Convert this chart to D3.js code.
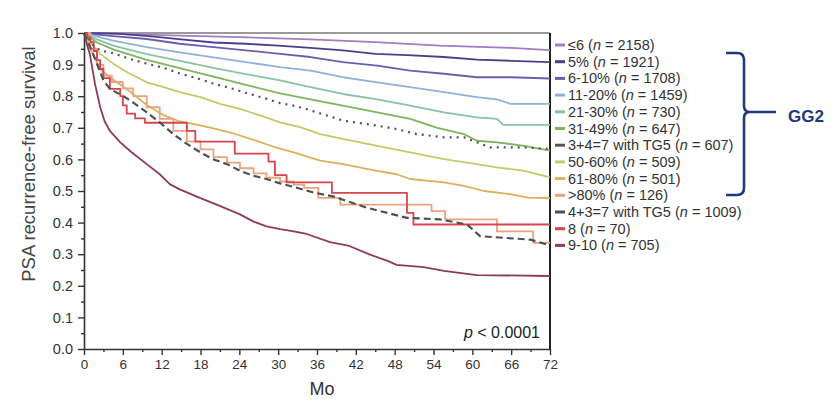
<!DOCTYPE html>
<html>
<head>
<meta charset="utf-8">
<script src="https://cdn.jsdelivr.net/npm/d3@7"></script>
<style>
  body { margin: 0; background: #fff; }
  text { font-family: "Liberation Sans", Arial, sans-serif; }
</style>
</head>
<body>
<svg id="display" width="837" height="403"></svg>
<script>
'use strict';
//data: [month, survival]
var le6 = [[0,1],[6,0.997],[12,0.993],[18,0.99],[24,0.987],[30,0.983],[35,0.98],[45,0.971],[55,0.96],[66,0.953],[72,0.946]];
var pct5 = [[0,1],[5,0.998],[10,0.99],[15,0.98],[20,0.97],[25,0.966],[30,0.96],[35,0.953],[40,0.945],[45,0.934],[50,0.93],[55.6,0.924],[60.7,0.916],[66,0.912],[72,0.908]];
var pct6to10 = [[0,1],[2,0.995],[4.5,0.99],[9.7,0.981],[14.8,0.966],[20,0.955],[25,0.945],[30.3,0.934],[35,0.924],[40,0.908],[45.3,0.897],[50.4,0.881],[55.6,0.871],[60.7,0.86],[66,0.86],[72,0.856]];
var pct11to20 = [[0,1],[2.5,0.986],[4.5,0.976],[9.7,0.955],[14.8,0.939],[20,0.923],[25,0.908],[30.3,0.892],[35,0.881],[40,0.86],[45.3,0.844],[50.4,0.829],[55.6,0.813],[60.7,0.797],[63.8,0.79],[65.9,0.776],[72,0.776]];
var pct21to30 = [[0,1],[2,0.98],[4.5,0.96],[9.7,0.933],[14.8,0.912],[20,0.89],[25,0.87],[30.3,0.85],[35,0.829],[40,0.807],[45.3,0.79],[50.4,0.77],[55.6,0.749],[60.7,0.733],[63.8,0.728],[64.8,0.709],[72,0.709]];
var pct31to49 = [[0,1],[2,0.97],[4.5,0.948],[9.7,0.915],[14.8,0.889],[20,0.862],[25,0.836],[30.3,0.809],[35,0.79],[40,0.77],[45.3,0.749],[50.4,0.728],[54.6,0.7],[58.7,0.68],[60.7,0.659],[63.8,0.654],[68,0.643],[72,0.628]];
var tg5_347 = [[0,1],[1.5,0.96],[2.5,0.945],[4.5,0.936],[7.1,0.918],[9.7,0.903],[12.3,0.89],[14.8,0.872],[17.4,0.857],[20,0.84],[22.6,0.826],[25.1,0.81],[27.7,0.795],[30.3,0.778],[32.9,0.768],[35.5,0.752],[40,0.723],[45.3,0.707],[48.3,0.696],[51.4,0.68],[55.6,0.67],[58.7,0.67],[60.7,0.654],[62.8,0.638],[68,0.638],[72,0.633]];
var pct50to60 = [[0,1],[1,0.97],[2.5,0.934],[4.5,0.903],[7.1,0.871],[9.7,0.844],[12.3,0.829],[14.8,0.813],[18,0.797],[21,0.776],[24.1,0.76],[27.2,0.739],[30.3,0.717],[33.4,0.702],[36.5,0.68],[40,0.665],[45.3,0.643],[50.4,0.622],[55.6,0.601],[60.7,0.585],[63.8,0.575],[68,0.564],[72,0.543]];
var pct61to80 = [[0,1],[1,0.95],[2.5,0.885],[4.3,0.855],[7.1,0.815],[9.7,0.772],[12.3,0.74],[14.8,0.72],[17.4,0.71],[20,0.698],[23.1,0.682],[26.2,0.662],[29.3,0.64],[32.4,0.622],[36.5,0.596],[40,0.585],[45.3,0.564],[48.3,0.553],[50.4,0.538],[55.6,0.527],[58.7,0.516],[61.8,0.5],[65.9,0.49],[68.5,0.479],[72,0.477]];
var gt80 = [[0,1],[1,0.95],[2,0.9],[3,0.865],[4.3,0.845],[6,0.825],[7.6,0.8],[9.7,0.765],[11.7,0.728],[13.8,0.69],[15.9,0.657],[18,0.632],[20,0.607],[22.1,0.59],[24.1,0.572],[26.2,0.556],[28.2,0.542],[30.3,0.53],[32.4,0.52],[34,0.51],[36.2,0.478],[39.6,0.457],[53.7,0.436],[55.8,0.41],[63.8,0.372],[69.4,0.336],[72,0.336]];
var tg5_437 = [[0,1],[1.4,0.934],[3,0.85],[4,0.823],[6.1,0.8],[7.6,0.78],[9.7,0.749],[11.7,0.717],[13.8,0.68],[15.9,0.649],[18,0.622],[20,0.6],[22.1,0.585],[24.1,0.564],[26.2,0.548],[28.2,0.538],[30.3,0.524],[32.4,0.513],[35.5,0.495],[38.5,0.483],[43.7,0.447],[49.9,0.415],[55,0.41],[59.2,0.394],[61.2,0.357],[69,0.346],[71.6,0.33],[72,0.33]];
var gs8 = [[0,1],[0.5,0.986],[1,0.971],[1.5,0.943],[2,0.914],[2.5,0.886],[3,0.857],[4,0.823],[5.6,0.8],[6,0.771],[6.6,0.745],[7.9,0.73],[9.4,0.716],[15.9,0.69],[17.2,0.656],[23.3,0.618],[28.5,0.593],[29.5,0.55],[31.3,0.527],[38.3,0.494],[49.9,0.431],[50.9,0.394],[72,0.394]];
var gs9to10 = [[0,1],[0.5,0.96],[0.9,0.934],[1.7,0.839],[2.5,0.765],[3.2,0.72],[4,0.69],[5.6,0.654],[7.4,0.622],[9.7,0.585],[11.7,0.553],[13.3,0.521],[14.8,0.505],[17.9,0.478],[20.5,0.457],[24.1,0.426],[26.2,0.403],[28.2,0.388],[30.3,0.379],[32.4,0.372],[34.4,0.364],[38,0.338],[41,0.326],[44,0.3],[47,0.278],[48.3,0.266],[52.5,0.259],[55.6,0.247],[60.7,0.234],[72,0.231]];

var SERIES = [le6, pct5, pct6to10, pct11to20, pct21to30, pct31to49, tg5_347, pct50to60, pct61to80, gt80, tg5_437, gs8, gs9to10];
var LABELS = ['\u22646', '5%', '6-10%', '11-20%', '21-30%', '31-49%', '3+4=7 with TG5', '50-60%', '61-80%', '>80%', '4+3=7 with TG5', '8', '9-10'];
var COUNTS = [2158, 1921, 1708, 1459, 730, 647, 607, 509, 501, 126, 1009, 70, 705];
var X_TICKS = d3.range(0, 73, 6);
var Y_TICKS = d3.range(0, 1.01, 0.1);

//styles
var COLORS = ['#a47cc2', '#4e3d8c', '#6a5db2', '#8fb2dc', '#88c3a2', '#7db560', '#555555', '#c3ca6a', '#dbb15c', '#eba27f', '#4b5252', '#d8434c', '#8c3b5a'];
var DASHES = [null, null, null, null, null, null, '2,5', null, null, null, '7,4', null, null];
var STEPPED = [false, false, false, false, false, false, false, false, false, true, false, true, false];

var HEIGHT = 403;
var WIDTH = 837;
var MARGINS = { top: 33, right: 287, bottom: 54, left: 84 };

var svg = d3.select('#display');

var x = d3.scaleLinear().domain([0, 72]).range([MARGINS.left, WIDTH - MARGINS.right]);
var y = d3.scaleLinear().domain([0, 1]).range([HEIGHT - MARGINS.bottom, MARGINS.top]);

//frame
svg.append('line')
  .attr('x1', x(0)).attr('x2', x(72))
  .attr('y1', y(1)).attr('y2', y(1))
  .attr('stroke', '#9a9a9a').attr('stroke-width', 2);
svg.append('line')
  .attr('x1', x(72)).attr('x2', x(72))
  .attr('y1', y(1)).attr('y2', y(0))
  .attr('stroke', '#222').attr('stroke-width', 2);

//axes
function styleAxis(g, size) {
  g.select('.domain').attr('stroke', '#333').attr('stroke-width', 1.6);
  g.selectAll('.tick line').attr('stroke', '#333').attr('stroke-width', 1.4);
  g.selectAll('.tick text').attr('fill', '#333').attr('font-size', size)
    .attr('font-family', 'Liberation Sans, Arial, sans-serif');
}

var xAxis = svg.append('g')
  .attr('transform', 'translate(0,' + y(0) + ')')
  .call(d3.axisBottom(x).tickValues(X_TICKS).tickSize(6).tickPadding(4).tickSizeOuter(0));
styleAxis(xAxis, 13.5);
svg.append('g')
  .attr('transform', 'translate(0,' + y(0) + ')')
  .call(d3.axisBottom(x).tickValues(d3.range(3, 72, 6)).tickSize(3).tickFormat('').tickSizeOuter(0))
  .call(function(g) { g.select('.domain').remove(); g.selectAll('line').attr('stroke', '#333').attr('stroke-width', 1.4); });

var yAxis = svg.append('g')
  .attr('transform', 'translate(' + x(0) + ',0)')
  .call(d3.axisLeft(y).tickValues(Y_TICKS).tickFormat(d3.format('.1f')).tickSize(6).tickPadding(5).tickSizeOuter(0));
styleAxis(yAxis, 14.5);
svg.append('g')
  .attr('transform', 'translate(' + x(0) + ',0)')
  .call(d3.axisLeft(y).tickValues(d3.range(0.05, 1, 0.1)).tickSize(3).tickFormat('').tickSizeOuter(0))
  .call(function(g) { g.select('.domain').remove(); g.selectAll('line').attr('stroke', '#333').attr('stroke-width', 1.4); });

svg.append('text')
  .attr('transform', 'translate(35,164) rotate(-90)')
  .attr('text-anchor', 'middle')
  .attr('font-size', 18.5)
  .attr('fill', '#444')
  .text('PSA recurrence-free survival');

svg.append('text')
  .attr('x', (x(0) + x(72)) / 2 + 5)
  .attr('y', 395)
  .attr('text-anchor', 'middle')
  .attr('font-size', 18)
  .attr('fill', '#333')
  .text('Mo');

var pText = svg.append('text')
  .attr('x', x(72) - 10)
  .attr('y', 338)
  .attr('text-anchor', 'end')
  .attr('font-size', 16)
  .attr('fill', '#222');
pText.append('tspan').attr('font-style', 'italic').text('p');
pText.append('tspan').text(' < 0.0001');

//curves
var lineLinear = d3.line().x(function(d) { return x(d[0]); }).y(function(d) { return y(d[1]); });
var lineStep = d3.line().x(function(d) { return x(d[0]); }).y(function(d) { return y(d[1]); }).curve(d3.curveStepAfter);

var drawOrder = [0, 1, 2, 3, 4, 5, 7, 8, 12, 9, 11, 6, 10];
drawOrder.forEach(function(i) {
  svg.append('path')
    .attr('d', (STEPPED[i] ? lineStep : lineLinear)(SERIES[i]))
    .attr('fill', 'none')
    .attr('stroke', COLORS[i])
    .attr('stroke-width', DASHES[i] ? 2.2 : 1.8)
    .attr('stroke-dasharray', DASHES[i])
    .attr('stroke-linejoin', 'round');
});

//legend
var LEGEND_TOP = 45;
var LEGEND_STEP = 16.7;
var legend = svg.append('g');
LABELS.forEach(function(label, i) {
  var cy = LEGEND_TOP + i * LEGEND_STEP;
  legend.append('line')
    .attr('x1', 555).attr('x2', 565)
    .attr('y1', cy).attr('y2', cy)
    .attr('stroke', COLORS[i]).attr('stroke-width', 3);
  var t = legend.append('text')
    .attr('x', 568).attr('y', cy + 5)
    .attr('font-size', 14.5)
    .attr('fill', '#333');
  t.append('tspan').text(label + ' (');
  t.append('tspan').attr('font-style', 'italic').text('n');
  t.append('tspan').text(' = ' + COUNTS[i] + ')');
});

//GG2 bracket
var bracket = d3.path();
bracket.moveTo(726, 53);
bracket.lineTo(737, 53);
bracket.quadraticCurveTo(744, 53, 744, 60);
bracket.lineTo(744, 106);
bracket.quadraticCurveTo(744, 112, 750, 112);
bracket.moveTo(750, 112);
bracket.quadraticCurveTo(744, 112, 744, 118);
bracket.lineTo(744, 188);
bracket.quadraticCurveTo(744, 195, 737, 195);
bracket.lineTo(726, 195);
bracket.moveTo(746, 112);
bracket.lineTo(776, 112);
svg.append('path')
  .attr('d', bracket.toString())
  .attr('fill', 'none')
  .attr('stroke', '#1f3a7a')
  .attr('stroke-width', 2.6);

svg.append('text')
  .attr('x', 788).attr('y', 122)
  .attr('font-size', 17)
  .attr('font-weight', 'bold')
  .attr('fill', '#1f3a7a')
  .text('GG2');
</script>
</body>
</html>
